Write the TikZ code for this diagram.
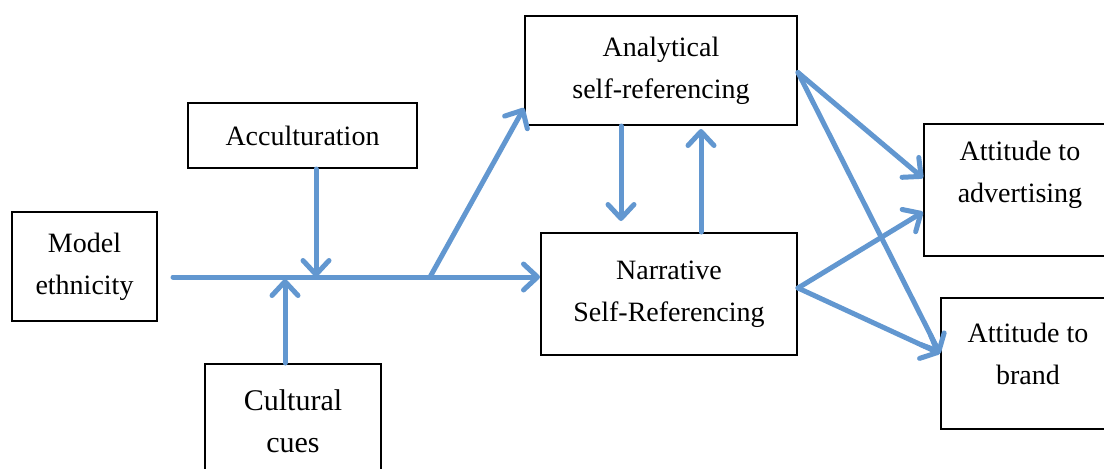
\documentclass[tikz,border=0pt]{standalone}
\usepackage{fontspec}
\setmainfont{Liberation Serif}
\usetikzlibrary{arrows.meta,calc}
\definecolor{arrowblue}{RGB}{98,151,208}
\begin{document}
\begin{tikzpicture}[
        x=0.5pt, y=-0.5pt,
        box/.style={rectangle, draw=black, line width=1pt, inner sep=0pt, align=center, font=\fontsize{14}{21}\selectfont},
        arrow/.style={-{Straight Barb[length=7pt, width=13pt, line cap=round, line join=round]}, draw=arrowblue, line width=2.5pt, line cap=round}
    ]
        \clip (0,0) rectangle (1104,468);

        \node[box, minimum width=72.5pt, minimum height=54.5pt] (model) at (84.5,266.5) {Model\\ethnicity};
        \node[box, minimum width=114.5pt, minimum height=32.5pt] (accult) at (302.5,135.5) {Acculturation};
        \node[box, minimum width=88pt, minimum height=57pt, font=\fontsize{15}{21}\selectfont] (cues) at (293,421) {Cultural\\cues};
        \node[box, minimum width=136pt, minimum height=54.5pt] (analytic) at (661,70.5) {Analytical\\self-referencing};
        \node[box, minimum width=128pt, minimum height=61pt] (narrative) at (669,294) {Narrative\\Self-Referencing};
        \node[box, minimum width=96pt, minimum height=66pt, text depth=18pt] (advert) at (1020,190) {Attitude to\\advertising};
        \node[box, minimum width=87pt, minimum height=65.5pt, text depth=9.5pt] (brand) at (1028,363.5) {Attitude to\\brand};

        % junctions on the main line
        \coordinate (start) at (173,277);
        \coordinate (split) at (430,277);
        \coordinate (accin) at (316,277);
        \coordinate (cuesin) at (285,279);

        \draw[arrow] (start) -- (narrative.west |- start);
        \draw[arrow] (accult.south -| accin) -- (accin);
        \draw[arrow] (cues.north -| cuesin) -- (cuesin);
        \draw[arrow] (split) -- ([yshift=9pt]analytic.south west);

        \draw[arrow] ([xshift=-20pt]analytic.south) -- ([xshift=-24pt, yshift=5.5pt]narrative.north);
        \draw[arrow] ([xshift=16pt]narrative.north) -- ([xshift=20pt, yshift=-1.5pt]analytic.south);

        \draw[arrow] ([yshift=-1pt]analytic.east) -- ([yshift=6pt]advert.west);
        \draw[arrow] ([yshift=-1pt]analytic.east) -- ([yshift=5pt]brand.west);
        \draw[arrow] ([yshift=3pt]narrative.east) -- ([yshift=-11pt]advert.west);
        \draw[arrow] ([yshift=3pt]narrative.east) -- ([yshift=5pt]brand.west);
    \end{tikzpicture}
\end{document}
